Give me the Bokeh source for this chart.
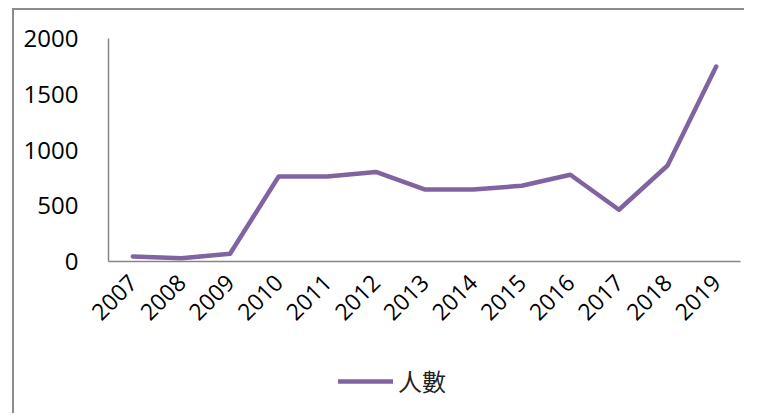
import math
from bokeh.plotting import figure
from bokeh.models import ColumnDataSource, FixedTicker, Legend, LegendItem, Range1d
from bokeh.embed import file_html
from bokeh.resources import INLINE

years = [2007, 2008, 2009, 2010, 2011, 2012, 2013,
         2014, 2015, 2016, 2017, 2018, 2019]
counts = [45, 30, 70, 762, 762, 803, 646, 646, 679, 778, 464, 861, 1749]
series_name = "人數"
y_ticks = [0, 500, 1000, 1500, 2000]

# layout (pixels inside the figure)
FIG_W, FIG_H = 732, 405
PLOT_TOP, PLOT_LEFT, PLOT_RIGHT = 28, 94, 726
AXIS_Y = 251            # pixel row of value 0
Y_MAX = 2000
x_lo, x_hi = years[0] - 0.5, years[-1] + 0.5
px_per_x = (PLOT_RIGHT - PLOT_LEFT) / (x_hi - x_lo)
px_per_y = (AXIS_Y - PLOT_TOP) / Y_MAX
x_range = Range1d(x_lo - PLOT_LEFT / px_per_x, x_hi + (FIG_W - PLOT_RIGHT) / px_per_x)
y_range = Range1d(-(FIG_H - AXIS_Y) / px_per_y, Y_MAX + PLOT_TOP / px_per_y)

src = ColumnDataSource(dict(year=years, count=counts))

p = figure(width=FIG_W, height=FIG_H, x_range=x_range, y_range=y_range,
           output_backend="svg", toolbar_location=None,
           min_border_left=0, min_border_right=0, min_border_top=0,
           min_border_bottom=0)
p.styles = {"border-left": "2px solid #8c8c8c", "border-top": "2px solid #8c8c8c",
            "margin-left": "12px", "margin-top": "8px"}
p.outline_line_color = None
p.grid.visible = False
p.background_fill_color = "white"
p.border_fill_color = "white"

r = p.line("year", "count", source=src, line_color="#8064A2", line_width=4.5,
           line_cap="round", line_join="round")

for ax in (p.xaxis[0], p.yaxis[0]):
    ax.axis_line_color = "#868686"
    ax.axis_line_width = 1.5
    ax.major_tick_line_color = None
    ax.minor_tick_line_color = None
    ax.major_label_text_color = "black"
    ax.major_label_text_font = "Open Sans"

p.yaxis[0].ticker = FixedTicker(ticks=y_ticks)
p.yaxis[0].bounds = (0, Y_MAX)
p.yaxis[0].fixed_location = x_lo
p.yaxis[0].major_label_text_font_size = "24px"
p.yaxis[0].major_label_standoff = 24

p.xaxis[0].ticker = FixedTicker(ticks=years)
p.xaxis[0].bounds = (x_lo, x_hi)
p.xaxis[0].fixed_location = 0
p.xaxis[0].major_label_text_font_size = "23px"
p.xaxis[0].major_label_orientation = math.pi / 4
p.xaxis[0].major_label_standoff = 11

legend = Legend(items=[LegendItem(label=series_name, renderers=[r])],
                location=(324, 17), orientation="horizontal",
                glyph_width=55, glyph_height=24, label_standoff=5,
                label_text_font="Noto Sans CJK TC", label_text_font_size="24px",
                label_text_color="#222222",
                border_line_color=None, background_fill_alpha=0,
                padding=0, margin=0)
p.add_layout(legend, "center")

open("out.html", "w").write(file_html(p, INLINE))
